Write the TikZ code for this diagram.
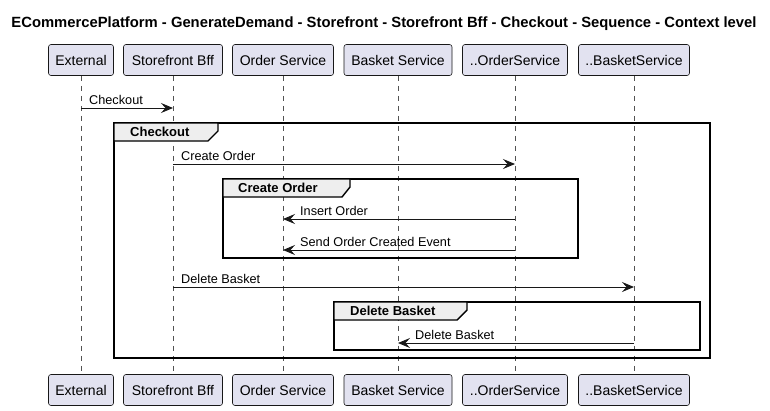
\documentclass[tikz,border=0pt]{standalone}
\usepackage{fontspec}
\setmainfont{Liberation Sans}
\usetikzlibrary{arrows.meta}
\definecolor{partfill}{HTML}{E2E2F0}
\definecolor{partline}{HTML}{181818}
\definecolor{tabfill}{HTML}{EEEEEE}
\begin{document}
\begin{tikzpicture}[x=1pt,y=-1pt,
 part/.style={draw=partline,fill=partfill,rounded corners=2.5pt,minimum height=31pt,inner sep=0pt,font=\fontsize{14}{16}\selectfont,line width=0.6pt},
 life/.style={draw=partline!75,line width=0.5pt,dash pattern=on 5pt off 5pt},
 msg/.style={draw=partline,line width=0.9pt,-{Stealth[length=12pt,width=10pt,inset=4.5pt]}},
 msglabel/.style={anchor=base west,font=\fontsize{12.7}{14}\selectfont,inner sep=0pt},
 frm/.style={draw=black,line width=1.4pt},
 tabshape/.style={draw=black,fill=tabfill,line width=1.4pt},
 tablabel/.style={anchor=west,font=\bfseries\fontsize{13}{15}\selectfont,inner sep=0pt}
]
\useasboundingbox (0,0) rectangle (770,410);
\fill[white] (0,0) rectangle (770,410);

\node[font=\bfseries\fontsize{14.8}{17}\selectfont,inner sep=0pt] (title) at (384,24) {ECommercePlatform - GenerateDemand - Storefront - Storefront Bff - Checkout - Sequence - Context level};

% participants top
\node[part,minimum width=65pt] (ext) at (81,60) {External};
\node[part,minimum width=99pt] (bff) at (173,60) {Storefront Bff};
\node[part,minimum width=101pt] (ord) at (283,60) {Order Service};
\node[part,minimum width=108pt] (bsk) at (398,60) {Basket Service};
\node[part,minimum width=105pt] (ords) at (515,60) {..OrderService};
\node[part,minimum width=111pt] (bsks) at (634,60) {..BasketService};
% participants bottom
\node[part,minimum width=65pt] (ext2) at (81,390) {External};
\node[part,minimum width=99pt] (bff2) at (173,390) {Storefront Bff};
\node[part,minimum width=101pt] (ord2) at (283,390) {Order Service};
\node[part,minimum width=108pt] (bsk2) at (398,390) {Basket Service};
\node[part,minimum width=105pt] (ords2) at (515,390) {..OrderService};
\node[part,minimum width=111pt] (bsks2) at (634,390) {..BasketService};

% lifelines
\draw[life] (ext.south) -- (ext2.north);
\draw[life] (bff.south) -- (bff2.north);
\draw[life] (ord.south) -- (ord2.north);
\draw[life] (bsk.south) -- (bsk2.north);
\draw[life] (ords.south) -- (ords2.north);
\draw[life] (bsks.south) -- (bsks2.north);

% frames
\draw[frm] (114,123) rectangle (710,358);
\draw[tabshape] (114,123) -- (218,123) -- (218,131) -- (208,141) -- (114,141) -- cycle;
\node[tablabel] at (130,132) {Checkout};

\draw[frm] (223,179) rectangle (578,258);
\draw[tabshape] (223,179) -- (350,179) -- (350,187) -- (342,197) -- (223,197) -- cycle;
\node[tablabel] at (238,188) {Create Order};

\draw[frm] (334,302) rectangle (700,350);
\draw[tabshape] (334,302) -- (467,302) -- (467,310) -- (457,320) -- (334,320) -- cycle;
\node[tablabel] at (350,311) {Delete Basket};

% messages
\draw[msg] (ext.south |- 0,108) -- (bff.south |- 0,108);
\node[msglabel] at (89,104) {Checkout};

\draw[msg] (bff.south |- 0,164) -- (ords.south |- 0,164);
\node[msglabel] at (181,160) {Create Order};

\draw[msg] (ords.south |- 0,219) -- (ord.south |- 0,219);
\node[msglabel] at (300,215) {Insert Order};

\draw[msg] (ords.south |- 0,250) -- (ord.south |- 0,250);
\node[msglabel] at (300,246) {Send Order Created Event};

\draw[msg] (bff.south |- 0,287) -- (bsks.south |- 0,287);
\node[msglabel] at (181,283) {Delete Basket};

\draw[msg] (bsks.south |- 0,343) -- (bsk.south |- 0,343);
\node[msglabel] at (415,339) {Delete Basket};
\end{tikzpicture}
\end{document}
